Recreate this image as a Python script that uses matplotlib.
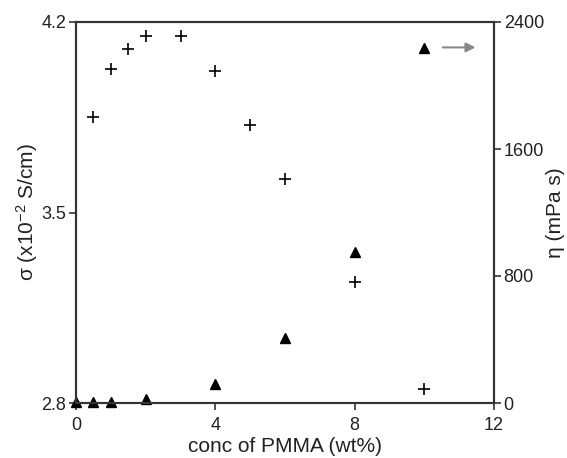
import matplotlib
matplotlib.use('Agg')
from matplotlib import pyplot as plt

plt.rcParams['font.family'] = ['Liberation Sans', 'DejaVu Sans']
plt.rcParams['mathtext.default'] = 'regular'

# conductivity (plus markers, left axis)
conc_sigma = [0.5, 1, 1.5, 2, 3, 4, 5, 6, 8, 10]
sigma = [3.852, 4.027, 4.10, 4.149, 4.149, 4.019, 3.820, 3.623, 3.245, 2.850]

# viscosity (triangles, right axis)
conc_eta = [0, 0.5, 1, 2, 4, 6, 8, 10]
eta = [5, 5, 5, 25, 120, 411, 951, 2238]

dark = '#333333'

fig = plt.figure(figsize=(5.67, 4.58), dpi=100)
ax = fig.add_axes([76 / 567, 55 / 458, 418 / 567, 381 / 458])
ax2 = ax.twinx()

ax.plot(conc_sigma, sigma, linestyle='none', marker='+', color='black',
        markersize=9, markeredgewidth=1.2, clip_on=False)
ax2.plot(conc_eta, eta, linestyle='none', marker='^', color='black',
         markersize=7, clip_on=False)

ax2.annotate('', xy=(11.55, 2240), xytext=(10.45, 2240),
             arrowprops=dict(arrowstyle='-|>', color='#888888', lw=1.5,
                             mutation_scale=14))

ax.set_xlim(0, 12)
ax.set_ylim(2.8, 4.2)
ax2.set_ylim(0, 2400)
ax.set_xticks([0, 4, 8, 12])
ax.set_yticks([2.8, 3.5, 4.2])
ax.set_yticklabels(['2.8', '3.5', '4.2'])
ax2.set_yticks([0, 800, 1600, 2400])

for a in (ax, ax2):
    for s in a.spines.values():
        s.set_color(dark)
        s.set_linewidth(1.5)
    a.tick_params(colors=dark, labelcolor='#222222', labelsize=13,
                  width=1.2, length=5, pad=2)
ax.tick_params(axis='x', pad=5)

ax.set_xlabel('conc of PMMA (wt%)', fontsize=15, color='#222222', labelpad=2)
ax.set_ylabel('σ (x10$^{-2}$ S/cm)', fontsize=15, color='#222222')
ax2.set_ylabel('η (mPa s)', fontsize=15, color='#222222')
ax.yaxis.set_label_coords(-0.085, 0.5)
ax2.yaxis.set_label_coords(1.125, 0.5)

fig.savefig('out.png', dpi=100)
